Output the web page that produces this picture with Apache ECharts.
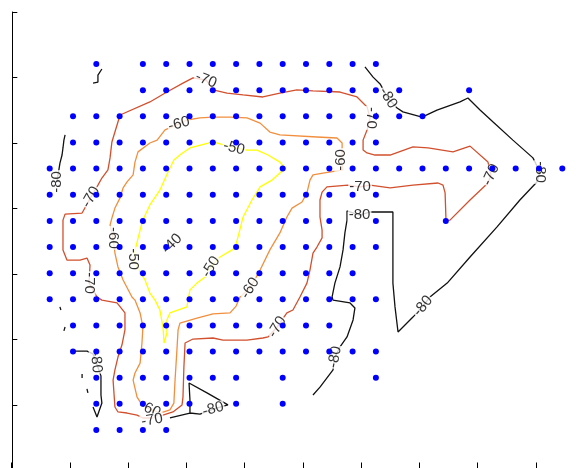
<!DOCTYPE html>
<html>
<head>
<meta charset="utf-8">
<script src="https://cdn.jsdelivr.net/npm/echarts@6/dist/echarts.min.js"></script>
<style>
  html, body { margin: 0; padding: 0; background: #fff; }
  #chart { width: 585px; height: 468px; }
</style>
</head>
<body>
<div id="chart"></div>
<script>
// Sampling stations: for each grid row (0 = southernmost), the occupied column indices
const stationCols = [
  [2, 3, 4, 5],
  [2, 3, 4, 5, 6, 8, 10],
  [2, 3, 4, 5, 6, 7, 8, 10, 14],
  [1, 2, 3, 4, 5, 6, 7, 8, 9, 10, 11, 12, 13, 14],
  [1, 2, 3, 4, 5, 6, 7, 8, 9, 10, 11, 12],
  [0, 1, 2, 3, 4, 5, 6, 7, 8, 9, 10, 11, 12, 13, 14],
  [0, 1, 2, 3, 4, 5, 6, 7, 8, 9, 10, 11, 12, 13],
  [0, 1, 2, 3, 4, 5, 6, 7, 8, 9, 10, 11, 12, 13, 14],
  [0, 1, 2, 3, 4, 5, 6, 7, 8, 9, 10, 11, 12, 14, 17],
  [0, 1, 2, 3, 4, 5, 6, 7, 8, 9, 10, 11, 12, 13, 14],
  [0, 1, 2, 3, 4, 5, 6, 7, 8, 9, 10, 11, 12, 13, 14, 15, 16, 17, 18, 19, 20, 21, 22],
  [1, 2, 3, 4, 5, 6, 7, 8, 9, 10, 11, 12, 13, 14],
  [1, 2, 3, 4, 5, 6, 7, 8, 9, 10, 11, 12, 13, 14, 15, 16],
  [4, 5, 6, 7, 8, 9, 10, 11, 12, 13, 14, 15, 18],
  [2, 4, 5, 6, 7, 8, 9, 10, 11, 12, 13, 14]
];

// Contour polylines in grid units [column, row]
const contour50 = [[7.01,11.02],[7.91,10.79],[8.47,10.71],[8.90,10.71],[9.37,10.52],[9.88,10.25],[10.10,10.02],[9.88,9.83],[9.54,9.56],[9.03,9.30],[8.68,8.80],[8.30,8.15],[8.08,7.38],[7.95,6.96],[7.31,6.62],[6.92,6.24],[6.67,5.85],[6.32,5.62],[6.02,5.36],[5.94,4.97],[5.89,4.71],[5.16,4.48],[5.03,4.21],[5.03,3.71],[4.91,3.33],[4.86,3.94],[4.73,4.59],[4.52,4.97],[4.30,5.24],[4.09,5.74],[3.88,6.04],[3.58,6.54],[3.75,7.19],[3.88,7.65],[4.00,8.03],[4.30,8.61],[4.73,9.18],[5.08,9.87],[5.33,10.33],[5.64,10.56],[6.02,10.79],[7.01,11.02]];

const contour60 = [[5.89,11.86],[6.45,11.94],[7.01,11.97],[7.74,11.97],[8.47,11.94],[9.03,11.74],[9.45,11.40],[9.88,11.29],[11.47,11.21],[12.33,11.17],[12.55,10.98],[12.55,10.44],[12.50,10.33],[12.59,9.95],[11.73,9.83],[11.30,9.76],[11.17,9.56],[11.04,9.07],[10.83,8.72],[10.40,8.49],[10.18,8.15],[9.88,7.54],[9.45,6.89],[9.03,6.12],[8.60,5.43],[8.17,5.09],[8.00,4.74],[7.74,4.48],[7.01,4.44],[6.32,4.28],[5.59,4.09],[5.51,3.83],[5.46,3.06],[5.38,1.91],[5.33,1.03],[5.16,0.77],[4.73,0.65],[4.30,0.80],[3.96,0.96],[3.75,1.26],[3.58,1.91],[3.66,2.18],[3.88,2.56],[3.96,3.33],[4.00,3.94],[3.88,4.48],[3.66,4.97],[3.53,5.09],[3.15,5.74],[2.93,6.24],[2.80,6.77],[2.72,7.35],[2.59,7.84],[2.67,8.11],[2.80,8.49],[3.02,8.88],[3.15,9.26],[3.32,9.49],[3.58,9.76],[3.66,10.25],[3.79,10.64],[4.30,10.98],[4.61,11.09],[4.95,11.48],[5.55,11.71],[5.89,11.86]];

const contour70 = [[7.01,13.01],[7.61,12.89],[8.30,12.82],[9.15,12.74],[9.88,12.89],[10.61,13.01],[11.30,12.97],[12.46,12.93],[13.19,12.74],[13.62,12.36],[13.75,11.94],[13.62,11.48],[13.45,11.09],[13.45,10.71],[13.62,10.60],[13.96,10.52],[14.61,10.52],[15.59,10.83],[16.24,10.79],[17.31,10.64],[18.04,10.86],[18.81,10.25],[18.94,9.76],[18.81,9.45],[18.04,8.80],[17.18,8.03],[17.01,8.00],[16.97,9.07],[16.88,9.37],[16.67,9.45],[15.59,9.37],[14.61,9.26],[13.75,9.37],[13.32,9.30],[12.80,9.37],[11.90,9.30],[11.69,9.10],[11.60,8.80],[11.60,8.15],[11.69,7.65],[11.69,7.35],[11.47,7.00],[11.30,6.77],[11.17,6.12],[11.04,5.62],[10.74,5.09],[10.44,4.59],[10.18,4.48],[9.97,4.21],[9.76,3.94],[9.37,3.56],[9.15,3.52],[8.47,3.44],[7.44,3.44],[7.01,3.52],[6.15,3.48],[5.81,3.33],[5.76,2.41],[5.72,1.26],[5.68,0.96],[5.29,0.69],[4.86,0.57],[4.39,0.46],[4.00,0.46],[3.75,0.57],[3.32,0.65],[2.93,0.69],[2.80,0.88],[2.72,1.91],[2.80,2.30],[2.93,2.79],[3.10,3.25],[3.23,3.83],[3.23,4.48],[2.89,4.86],[2.24,4.97],[2.03,5.09],[1.69,5.62],[1.73,6.31],[1.60,6.58],[1.30,6.50],[0.74,6.50],[0.57,6.89],[0.57,8.03],[0.66,8.26],[1.39,8.30],[1.77,8.91],[2.07,9.37],[2.24,9.64],[2.50,9.95],[2.59,10.41],[2.67,11.02],[2.89,11.67],[3.02,12.05],[4.30,12.55],[5.03,12.93],[5.72,13.27],[6.15,13.47],[6.71,13.39],[7.01,13.01]];

const contour80East = [[13.53,13.89],[13.88,13.50],[14.18,13.24],[14.52,12.70],[14.91,12.32],[15.16,12.17],[15.98,11.97],[16.62,12.24],[17.61,12.55],[17.95,12.70],[18.47,12.24],[19.03,11.78],[19.88,11.09],[20.74,10.41],[21.04,9.87],[20.91,9.49],[20.18,8.80],[19.20,7.77],[18.04,6.62],[17.06,5.62],[16.32,5.09],[16.02,4.74],[15.59,4.32],[14.95,3.75],[14.82,4.71],[14.73,5.62],[14.73,8.15],[14.73,8.34],[13.75,8.34],[13.30,8.22],[12.76,8.38],[12.76,8.03],[12.67,7.54],[12.59,6.89],[12.46,6.24],[12.24,5.62],[12.12,5.09],[12.16,4.97],[12.89,4.86],[13.10,4.67],[13.02,4.21],[12.76,3.56],[12.46,3.18],[12.24,2.79],[12.16,2.30],[11.60,1.64],[11.30,1.34]];

const contour80South = [[5.16,0.46],[6.02,0.65],[6.45,0.61],[7.01,0.80],[7.65,0.96],[6.75,1.42],[5.98,1.80],[6.02,1.15],[6.02,0.65]];

const contour80West = [[0.66,11.29],[0.61,11.09],[0.57,10.79],[0.53,10.52],[0.44,10.21],[0.31,9.49]];

const contour80NorthWest = [[2.24,13.81],[2.07,13.58],[2.07,13.31],[1.86,13.27]];

const contour80SouthWest = [[1.09,3.02],[1.60,3.02],[1.86,2.91],[1.99,2.60],[2.20,2.07],[2.20,1.34],[2.24,1.03],[2.03,0.50],[1.86,0.88]];

const contour80Specks = [
  [[0.44,4.71],[0.48,4.59]],
  [[0.66,3.94],[0.61,3.79]],
  [[1.39,2.14],[1.39,1.99]],
  [[1.60,1.57],[1.64,1.42]]
];

// Contour level labels: anchor [column, row], level, text angle
const labelAt = [[6.71,13.39],[5.55,11.71],[7.91,10.79],[14.52,12.70],[13.79,11.94],[12.50,10.33],[13.32,9.30],[13.30,8.22],[18.94,9.76],[21.04,9.87],[16.02,4.74],[0.31,9.49],[1.77,8.91],[2.72,7.35],[3.58,6.54],[5.25,7.12],[6.92,6.24],[8.60,5.43],[1.69,5.62],[9.76,3.94],[12.24,2.79],[7.01,0.80],[1.99,2.60],[4.30,0.80],[4.39,0.38]];
const labelLevel = [-70,-60,-50,-80,-70,-60,-70,-80,-70,-80,-80,-80,-70,-60,-50,-40,-50,-60,-70,-70,-80,-80,-80,-60,-70];
const labelAngle = [-22,15,-15,-58,-90,90,0,0,65,-90,50,90,60,-90,-90,45,58,58,-90,58,80,15,-85,-25,10];

const levelColor = { '-50': '#ffff00', '-60': '#f28f3e', '-70': '#d2502d', '-80': '#111111' };

const stations = [];
stationCols.forEach(function (cols, row) {
  cols.forEach(function (col) { stations.push([col, row]); });
});

function contourSeries(data, level) {
  return {
    type: 'line',
    xAxisIndex: 1,
    yAxisIndex: 1,
    data: data,
    symbol: 'none',
    showSymbol: false,
    silent: true,
    z: 2,
    lineStyle: { color: levelColor[String(level)], width: 1.3 }
  };
}

const series = [
  contourSeries(contour50, -50),
  contourSeries(contour60, -60),
  contourSeries(contour70, -70),
  contourSeries(contour80East, -80),
  contourSeries(contour80South, -80),
  contourSeries(contour80West, -80),
  contourSeries(contour80NorthWest, -80),
  contourSeries(contour80SouthWest, -80)
];
contour80Specks.forEach(function (s) { series.push(contourSeries(s, -80)); });

series.push({
  type: 'scatter',
  xAxisIndex: 1,
  yAxisIndex: 1,
  symbolSize: 0,
  silent: true,
  z: 3,
  data: labelAt.map(function (p, i) {
    return { value: [p[0], p[1]], name: String(labelLevel[i]), label: { rotate: labelAngle[i] } };
  }),
  label: {
    show: true,
    position: 'inside',
    formatter: function (p) { return p.name; },
    color: '#000',
    fontSize: 15,
    fontFamily: 'Liberation Sans, Arial, sans-serif',
    backgroundColor: '#fff',
    padding: [0, 1],
    lineHeight: 13
  }
});

series.push({
  type: 'scatter',
  xAxisIndex: 1,
  yAxisIndex: 1,
  symbol: 'circle',
  symbolSize: 6,
  silent: true,
  z: 4,
  itemStyle: { color: '#0000ff', opacity: 1 },
  data: stations
});

const chart = echarts.init(document.getElementById('chart'), null, { renderer: 'canvas' });
chart.setOption({
  animation: false,
  backgroundColor: '#fff',
  grid: { left: 11.5, top: 12, width: 582.5, height: 458.5, containLabel: false, outerBoundsMode: 'none' },
  xAxis: [
    {
      type: 'value', min: 0, max: 10, interval: 1, position: 'bottom',
      axisLine: { show: true, onZero: false, lineStyle: { color: '#000', width: 1 } },
      axisTick: { show: true, inside: true, length: 8, lineStyle: { color: '#000', width: 1 } },
      axisLabel: { show: false },
      splitLine: { show: false }
    },
    { type: 'value', min: -1.6395, max: 23.3605, show: false, splitLine: { show: false } }
  ],
  yAxis: [
    {
      type: 'value', min: 0, max: 7, interval: 1, position: 'left', offset: -0.8,
      axisLine: { show: true, onZero: false, lineStyle: { color: '#000', width: 1 } },
      axisTick: { show: true, inside: true, length: 5, lineStyle: { color: '#000', width: 1 } },
      axisLabel: { show: false },
      splitLine: { show: false }
    },
    { type: 'value', min: -1.549, max: 15.991, show: false, splitLine: { show: false } }
  ],
  series: series
});
</script>
</body>
</html>
